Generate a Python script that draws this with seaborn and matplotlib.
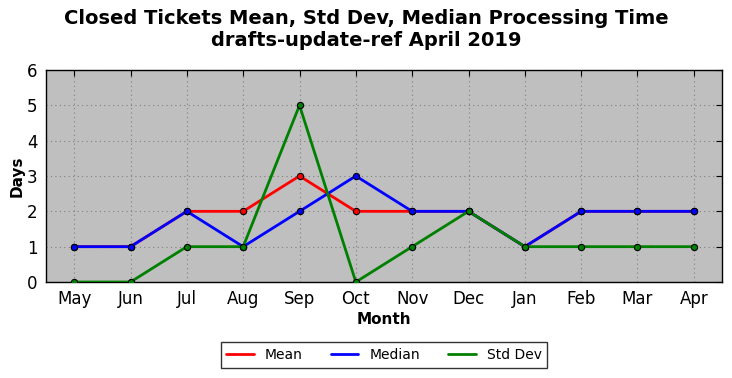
import matplotlib
matplotlib.use("Agg")
import matplotlib.pyplot as plt
import seaborn as sns
import pandas as pd
from matplotlib.lines import Line2D

months = ["May", "Jun", "Jul", "Aug", "Sep", "Oct", "Nov", "Dec", "Jan", "Feb", "Mar", "Apr"]
mean_vals = [1, 1, 2, 2, 3, 2, 2, 2, 1, 2, 2, 2]
median_vals = [1, 1, 2, 1, 2, 3, 2, 2, 1, 2, 2, 2]
std_vals = [0, 0, 1, 1, 5, 0, 1, 2, 1, 1, 1, 1]
series_names = ["Mean", "Median", "Std Dev"]
colors = ["red", "blue", "green"]

sns.set_style("white")
plt.rcParams['font.family'] = ['DejaVu Sans']
plt.rcParams['text.color'] = 'black'
plt.rcParams['axes.labelcolor'] = 'black'
plt.rcParams['xtick.color'] = 'black'
plt.rcParams['ytick.color'] = 'black'

rows = []
for name, vals in zip(series_names, [mean_vals, median_vals, std_vals]):
    for i, (m, v) in enumerate(zip(months, vals)):
        rows.append({"idx": i, "Month": m, "Days": v, "series": name})
df = pd.DataFrame(rows)

fig = plt.figure(figsize=(7.32, 3.78), dpi=100)
ax = fig.add_axes([46/732, 1 - 282/378, (722-46)/732, (282-70)/378])
ax.set_facecolor("#bfbfbf")

sns.lineplot(data=df, x="idx", y="Days", hue="series", palette=dict(zip(series_names, colors)),
             hue_order=series_names, marker="o", markersize=4.5, markeredgecolor="black",
             markeredgewidth=0.8, linewidth=2, ax=ax, legend=False, zorder=3)

ax.set_xlim(-0.5, len(months) - 0.5)
ax.set_ylim(0, 6)
ax.set_xticks(range(len(months)))
ax.set_xticklabels(months)
ax.set_yticks(range(0, 7))
ax.tick_params(axis="both", direction="in", top=True, right=True, labelsize=12,
               length=4, width=0.8, pad=6, colors="black")
ax.grid(True, linestyle=(0, (1, 3)), color="#7f7f7f", linewidth=0.8)
ax.set_axisbelow(True)
for s in ax.spines.values():
    s.set_color("black")
    s.set_linewidth(1)
    s.set_visible(True)

ax.set_xlabel("Month", fontsize=11, fontweight="bold", labelpad=3, color="black")
ax.set_ylabel("Days", fontsize=11, fontweight="bold", labelpad=2, color="black")

fig.suptitle("Closed Tickets Mean, Std Dev, Median Processing Time\ndrafts-update-ref April 2019",
             fontsize=14, fontweight="bold", y=0.975, color="black")

handles = [Line2D([0], [0], color=c, linewidth=2) for c in colors]
leg = fig.legend(handles, series_names, loc="center", bbox_to_anchor=(384/732, 1 - 355/378),
                 ncol=3, fontsize=10, frameon=True, fancybox=False, columnspacing=2,
                 handlelength=2, borderpad=0.4)
leg.get_frame().set_edgecolor("black")
leg.get_frame().set_linewidth(1)
for t in leg.get_texts():
    t.set_color("black")

fig.savefig("out.png", dpi=100)
